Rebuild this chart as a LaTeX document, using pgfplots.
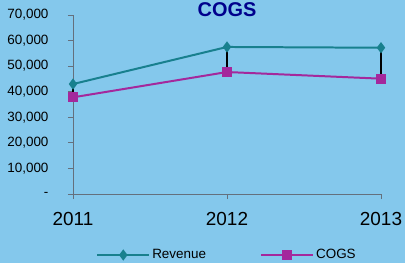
\documentclass[border=0pt]{standalone}
\usepackage{pgfplots}
\pgfplotsset{compat=1.18}
\usepackage{fontspec}
\setmainfont{Liberation Sans}
\definecolor{bg}{RGB}{132,200,236}
\definecolor{rev}{RGB}{24,128,142}
\definecolor{cogs}{RGB}{164,40,156}
\definecolor{axgray}{RGB}{100,112,125}
\definecolor{ttl}{RGB}{0,0,140}
\begin{document}
\begin{tikzpicture}
\fill[bg] (-73bp,-69bp) rectangle (332bp,194bp);
\useasboundingbox (-73bp,-69bp) rectangle (332bp,194bp);
\begin{axis}[
  at={(0,0)}, anchor=south west,
  scale only axis, width=308bp, height=179bp,
  xmin=0, xmax=2, ymin=0, ymax=70000,
  scaled y ticks=false,
  axis lines*=left,
  axis line style={axgray, line width=0.8pt, -},
  xtick={0,1,2}, xticklabels={2011,2012,2013},
  ytick={0,10000,20000,30000,40000,50000,60000,70000},
  yticklabels={-\hspace{9bp},{10,000},{20,000},{30,000},{40,000},{50,000},{60,000},{70,000}},
  tick align=outside, major tick length=5bp,
  tick style={axgray, line width=0.8pt},
  xticklabel style={font=\fontsize{19}{19}\selectfont, yshift=-10bp},
  yticklabel style={font=\fontsize{13.5}{13.5}\selectfont, xshift=-16bp},
  legend columns=2,
  legend style={at={(0.5,0)}, anchor=center, yshift=-61bp, draw=none, fill=none,
    font=\fontsize{13.5}{13.5}\selectfont,
    /tikz/every even column/.append style={column sep=52bp}},
  legend image code/.code={\draw[#1, mark repeat=2, mark phase=2] plot coordinates {(0bp,0bp) (26bp,0bp) (52bp,0bp)};},
  clip=false,
]
\addplot[black, line width=1.2pt, forget plot] coordinates {(0,43000) (0,37800)};
\addplot[black, line width=1.2pt, forget plot] coordinates {(1,57500) (1,47700)};
\addplot[black, line width=1.2pt, forget plot] coordinates {(2,57200) (2,45100)};
\addplot[rev, line width=2pt, mark=diamond*, mark size=4bp, mark options={solid, fill=rev}] coordinates {(0,43000) (1,57500) (2,57200)};
\addplot[cogs, line width=2pt, mark=square*, mark size=4bp, mark options={solid, fill=cogs}] coordinates {(0,37800) (1,47700) (2,45100)};
\legend{Revenue, COGS}
\node[anchor=center, yshift=5bp, font=\fontsize{20}{20}\selectfont\bfseries, text=ttl, inner sep=0pt] at (rel axis cs:0.5,1) {COGS};
\end{axis}
\end{tikzpicture}
\end{document}
